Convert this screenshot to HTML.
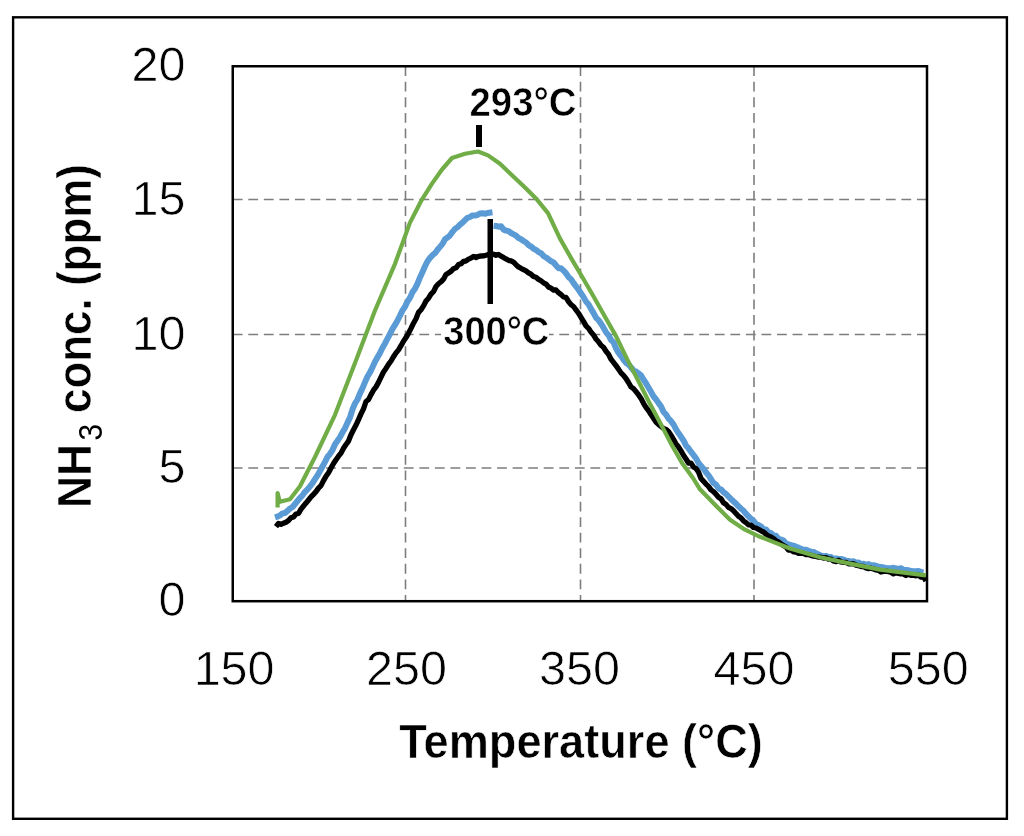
<!DOCTYPE html>
<html><head><meta charset="utf-8"><style>
html,body{margin:0;padding:0;background:#fff;}
svg{display:block;will-change:transform;}
text{font-family:"Liberation Sans",sans-serif;}
</style></head><body>
<svg width="1024" height="836" viewBox="0 0 1024 836">
<rect x="13.1" y="17.3" width="993.8" height="801.5" fill="none" stroke="#000" stroke-width="2.4"/>
<g stroke="#7d7d7d" stroke-width="1.6" stroke-dasharray="9.8 5.75" fill="none">
<line x1="405.5" y1="66.25" x2="405.5" y2="601.2"/><line x1="580.5" y1="66.25" x2="580.5" y2="601.2"/><line x1="754" y1="66.25" x2="754" y2="601.2"/><line x1="232.75" y1="468" x2="927" y2="468"/><line x1="232.75" y1="334.5" x2="927" y2="334.5"/><line x1="232.75" y1="199.5" x2="927" y2="199.5"/>
</g>
<rect x="232.75" y="66.25" width="694.25" height="534.95" fill="none" stroke="#000" stroke-width="2.5"/>
<g font-size="48.5" fill="#000" stroke="#fff" stroke-width="0.7">
<text x="185.5" y="81.0" text-anchor="end">20</text><text x="185.5" y="214.8" text-anchor="end">15</text><text x="185.5" y="349.5" text-anchor="end">10</text><text x="185.5" y="483.1" text-anchor="end">5</text><text x="185.5" y="615.5" text-anchor="end">0</text>
<text x="234.1" y="685.2" text-anchor="middle">150</text><text x="406.5" y="685.2" text-anchor="middle">250</text><text x="579.5" y="685.2" text-anchor="middle">350</text><text x="754.0" y="685.2" text-anchor="middle">450</text><text x="928.3" y="685.2" text-anchor="middle">550</text>
</g>
<g fill="none" stroke-linejoin="round" stroke-linecap="butt">
<path d="M275.0 517.4 L277.5 516.6 L280.0 515.3 L282.5 513.4 L285.0 513.0 L287.5 510.9 L290.0 508.5 L292.5 507.0 L295.0 504.0 L297.5 501.0 L300.0 497.9 L302.5 495.3 L305.0 491.8 L307.5 489.3 L310.0 486.3 L312.5 483.2 L315.0 479.2 L317.5 475.4 L320.0 471.0 L322.5 466.5 L325.0 461.9 L327.5 456.9 L330.0 453.8 L332.5 450.0 L335.0 444.2 L337.5 440.7 L340.0 437.1 L342.5 432.4 L345.0 428.2 L347.5 422.6 L350.0 417.4 L352.5 409.3 L355.0 403.5 L357.5 399.5 L360.0 393.4 L362.5 388.1 L365.0 382.2 L367.5 376.5 L370.0 372.4 L372.5 367.2 L375.0 361.7 L377.5 357.3 L380.0 352.9 L382.5 347.7 L385.0 343.4 L387.5 338.7 L390.0 333.9 L392.5 328.9 L395.0 324.9 L397.5 320.5 L400.0 315.6 L402.5 310.4 L405.0 306.7 L407.5 301.4 L410.0 297.7 L412.5 292.1 L415.0 288.7 L417.5 283.7 L420.0 277.4 L422.5 272.0 L425.0 266.3 L427.5 261.2 L430.0 257.9 L432.5 255.2 L435.0 253.2 L437.5 249.8 L440.0 246.9 L442.5 243.9 L445.0 239.3 L447.5 237.6 L450.0 235.4 L452.5 231.8 L455.0 228.8 L457.5 227.3 L460.0 224.6 L462.5 222.6 L465.0 220.1 L467.5 217.8 L470.0 217.0 L472.5 215.4 L475.0 215.6 L477.5 214.8 L480.0 213.4 L482.5 213.2 L485.0 213.8 L487.5 213.0 L492.5 212.3 M493.6 225.7 L496.1 226.0 L498.6 226.7 L501.1 226.2 L503.6 229.6 L506.1 230.6 L508.6 231.1 L511.1 233.0 L513.6 234.3 L516.1 235.6 L518.6 238.1 L521.1 239.2 L523.6 241.0 L526.1 242.5 L528.6 245.1 L531.1 246.6 L533.6 248.8 L536.1 249.9 L538.6 252.1 L541.1 253.3 L543.6 256.1 L546.1 257.5 L548.6 259.4 L551.1 261.3 L553.6 262.5 L556.1 265.5 L558.6 268.3 L561.1 268.3 L563.6 270.7 L566.1 273.3 L568.6 277.2 L571.1 279.3 L573.6 283.1 L576.1 286.5 L578.6 289.8 L581.1 293.5 L583.6 297.1 L586.1 301.6 L588.6 304.5 L591.1 308.9 L593.6 313.1 L596.1 317.8 L598.6 320.2 L601.1 323.8 L603.6 327.9 L606.1 332.4 L608.6 335.4 L611.1 340.0 L613.6 342.4 L616.1 348.5 L618.6 352.9 L621.1 356.0 L623.6 359.9 L626.1 362.9 L628.6 364.6 L631.1 367.5 L633.6 370.5 L636.1 371.6 L638.6 373.5 L641.1 375.4 L643.6 379.7 L646.1 383.5 L648.6 387.8 L651.1 392.1 L653.6 396.5 L656.1 399.5 L658.6 403.1 L661.1 406.5 L663.6 412.0 L666.1 414.6 L668.6 418.7 L671.1 421.2 L673.6 424.6 L676.1 429.4 L678.6 433.3 L681.1 436.8 L683.6 440.7 L686.1 445.7 L688.6 448.4 L691.1 451.9 L693.6 455.1 L696.1 458.5 L698.6 463.1 L701.1 466.0 L703.6 468.9 L706.1 472.5 L708.6 475.4 L711.1 479.3 L713.6 483.1 L716.1 484.8 L718.6 488.4 L721.1 489.5 L723.6 492.3 L726.1 494.0 L728.6 496.7 L731.1 499.2 L733.6 501.5 L736.1 503.8 L738.6 506.3 L741.1 508.7 L743.6 510.8 L746.1 513.9 L748.6 516.4 L751.1 518.8 L753.6 520.8 L756.1 524.0 L758.6 525.0 L761.1 526.5 L763.6 529.5 L766.1 529.6 L768.6 532.4 L771.1 533.1 L773.6 535.5 L776.1 535.8 L778.6 538.8 L781.1 539.6 L783.6 540.6 L786.1 543.5 L788.6 544.4 L791.1 545.2 L793.6 545.6 L796.1 546.8 L798.6 547.6 L801.1 548.9 L803.6 549.8 L806.1 549.8 L808.6 550.8 L811.1 551.6 L813.6 552.0 L816.1 553.3 L818.6 554.4 L821.1 555.5 L823.6 556.4 L826.1 555.8 L828.6 557.1 L831.1 557.1 L833.6 559.0 L836.1 558.4 L838.6 559.2 L841.1 559.0 L843.6 559.6 L846.1 560.7 L848.6 560.9 L851.1 561.8 L853.6 561.2 L856.1 562.9 L858.6 562.5 L861.1 564.4 L863.6 563.7 L866.1 564.9 L868.6 564.0 L871.1 565.5 L873.6 565.2 L876.1 565.9 L878.6 566.7 L881.1 566.9 L883.6 567.5 L886.1 568.0 L888.6 568.3 L891.1 568.2 L893.6 567.8 L896.1 568.4 L898.6 569.0 L901.1 568.2 L903.6 570.1 L906.1 569.9 L908.6 570.2 L911.1 571.1 L913.6 571.3 L916.1 571.3 L918.6 570.9 L921.1 572.0 L923.6 572.3" stroke="#5b9bd5" stroke-width="6"/>
<path d="M276.0 526.6 L278.5 523.4 L281.0 524.4 L283.5 523.2 L286.0 522.2 L288.5 520.5 L291.0 517.7 L293.5 516.9 L296.0 514.0 L298.5 513.5 L301.0 509.1 L303.5 506.0 L306.0 503.1 L308.5 500.0 L311.0 496.9 L313.5 494.3 L316.0 491.6 L318.5 488.1 L321.0 485.6 L323.5 480.6 L326.0 476.3 L328.5 472.8 L331.0 468.0 L333.5 463.5 L336.0 459.7 L338.5 456.2 L341.0 453.1 L343.5 448.2 L346.0 444.5 L348.5 441.1 L351.0 434.8 L353.5 429.8 L356.0 425.1 L358.5 419.6 L361.0 413.9 L363.5 408.8 L366.0 401.5 L368.5 399.6 L371.0 394.6 L373.5 390.2 L376.0 386.9 L378.5 382.4 L381.0 377.1 L383.5 372.0 L386.0 368.4 L388.5 364.3 L391.0 361.0 L393.5 356.7 L396.0 352.9 L398.5 349.9 L401.0 345.7 L403.5 341.2 L406.0 337.6 L408.5 333.2 L411.0 328.4 L413.5 323.2 L416.0 318.8 L418.5 312.4 L421.0 309.7 L423.5 305.9 L426.0 301.0 L428.5 298.2 L431.0 294.1 L433.5 291.6 L436.0 286.5 L438.5 283.8 L441.0 281.8 L443.5 279.2 L446.0 274.5 L448.5 273.0 L451.0 271.3 L453.5 268.7 L456.0 267.8 L458.5 264.6 L461.0 263.8 L463.5 261.3 L466.0 261.0 L468.5 259.1 L471.0 258.1 L473.5 256.5 L476.0 257.5 L478.5 256.3 L481.0 256.0 L483.5 255.9 L486.0 255.2 L488.5 254.4 L491.0 254.3 L493.5 254.2 L496.0 255.3 L498.5 254.4 L501.0 256.1 L503.5 257.4 L506.0 258.9 L508.5 260.3 L511.0 260.9 L513.5 262.2 L516.0 264.7 L518.5 266.9 L521.0 268.3 L523.5 269.6 L526.0 270.9 L528.5 272.9 L531.0 274.2 L533.5 276.5 L536.0 277.3 L538.5 279.4 L541.0 280.8 L543.5 282.8 L546.0 284.1 L548.5 287.0 L551.0 288.2 L553.5 290.0 L556.0 289.9 L558.5 292.7 L561.0 294.5 L563.5 297.0 L566.0 297.4 L568.5 301.5 L571.0 304.6 L573.5 306.5 L576.0 309.8 L578.5 313.2 L581.0 317.4 L583.5 321.4 L586.0 325.9 L588.5 328.3 L591.0 332.1 L593.5 334.9 L596.0 339.0 L598.5 341.7 L601.0 345.3 L603.5 347.3 L606.0 351.2 L608.5 354.2 L611.0 359.2 L613.5 362.4 L616.0 365.6 L618.5 369.1 L621.0 372.9 L623.5 375.4 L626.0 378.5 L628.5 382.5 L631.0 386.8 L633.5 388.6 L636.0 391.7 L638.5 394.7 L641.0 398.4 L643.5 403.3 L646.0 407.3 L648.5 410.6 L651.0 414.6 L653.5 418.2 L656.0 422.0 L658.5 424.4 L661.0 426.5 L663.5 428.4 L666.0 429.4 L668.5 431.5 L671.0 435.2 L673.5 439.3 L676.0 443.9 L678.5 447.0 L681.0 450.9 L683.5 455.3 L686.0 459.0 L688.5 463.0 L691.0 463.1 L693.5 466.9 L696.0 468.4 L698.5 472.1 L701.0 478.4 L703.5 481.3 L706.0 484.1 L708.5 486.4 L711.0 489.9 L713.5 491.6 L716.0 494.3 L718.5 497.2 L721.0 498.8 L723.5 502.7 L726.0 504.4 L728.5 507.4 L731.0 508.6 L733.5 510.8 L736.0 513.5 L738.5 516.2 L741.0 517.9 L743.5 520.8 L746.0 522.6 L748.5 524.9 L751.0 525.1 L753.5 527.5 L756.0 528.0 L758.5 529.3 L761.0 530.8 L763.5 532.0 L766.0 534.1 L768.5 536.0 L771.0 536.9 L773.5 538.6 L776.0 540.8 L778.5 542.0 L781.0 543.9 L783.5 545.6 L786.0 546.8 L788.5 550.0 L791.0 550.0 L793.5 551.9 L796.0 552.1 L798.5 553.3 L801.0 553.2 L803.5 553.3 L806.0 554.6 L808.5 554.6 L811.0 555.4 L813.5 556.1 L816.0 556.5 L818.5 557.1 L821.0 557.2 L823.5 558.1 L826.0 557.6 L828.5 559.2 L831.0 559.2 L833.5 561.0 L836.0 561.6 L838.5 560.3 L841.0 562.0 L843.5 562.4 L846.0 562.4 L848.5 563.8 L851.0 563.8 L853.5 563.7 L856.0 565.1 L858.5 565.8 L861.0 566.5 L863.5 566.4 L866.0 568.0 L868.5 568.6 L871.0 568.2 L873.5 569.0 L876.0 569.9 L878.5 570.3 L881.0 572.0 L883.5 571.5 L886.0 571.1 L888.5 571.6 L891.0 572.3 L893.5 573.9 L896.0 572.9 L898.5 573.3 L901.0 573.9 L903.5 573.9 L906.0 575.5 L908.5 574.2 L911.0 575.3 L913.5 575.2 L916.0 575.8 L918.5 575.1 L921.0 577.1 L923.5 576.4 L926 581" stroke="#000" stroke-width="5.3"/>
<path d="M277.6 507.5 L277.6 493 L279.5 500.8 L280.0 501.8 L290.0 499.2 L300.0 486.2 L315.0 457.0 L335.0 414.8 L355.0 363.0 L375.0 310.5 L395.0 263.8 L410.0 222.6 L421.0 201.2 L432.0 183.6 L442.0 169.5 L452.0 158.0 L465.0 153.7 L478.0 151.5 L488.0 155.4 L500.0 163.8 L512.0 175.2 L525.0 187.6 L537.0 199.6 L548.0 213.1 L560.0 238.6 L572.0 259.6 L583.0 278.2 L594.0 297.3 L605.0 316.7 L616.0 336.1 L627.0 358.9 L638.0 380.2 L649.0 402.0 L660.0 422.4 L671.0 443.6 L682.0 463.0 L693.0 478.0 L700.0 489.3 L715.0 504.8 L730.0 519.7 L745.0 529.7 L760.0 536.8 L775.0 542.6 L790.0 548.5 L820.0 557.2 L850.0 563.6 L880.0 569.6 L926.0 575.4" stroke="#70ad47" stroke-width="4.2"/>
</g>
<rect x="476" y="125" width="6" height="22" fill="#000"/>
<rect x="487.5" y="219" width="5.5" height="85" fill="#000"/>
<rect x="441" y="312" width="108" height="36" fill="#fff"/>
<g font-size="41.5" font-weight="bold" fill="#000" stroke="#fff" stroke-width="0.6">
<text x="469.5" y="116" textLength="107" lengthAdjust="spacingAndGlyphs">293°C</text>
<text x="443.3" y="344.7" textLength="106" lengthAdjust="spacingAndGlyphs">300°C</text>
</g>
<text x="399.3" y="758" font-size="48.5" font-weight="bold" stroke="#fff" stroke-width="0.6" textLength="363.5" lengthAdjust="spacingAndGlyphs">Temperature (°C)</text>
<g transform="translate(91,508) rotate(-90)" font-weight="bold" font-size="48.5" stroke="#fff" stroke-width="0.6">
<text x="0" y="0" textLength="64" lengthAdjust="spacingAndGlyphs">NH</text>
<text x="67.5" y="10.8" font-size="33" font-weight="normal" stroke="none" textLength="16.5" lengthAdjust="spacingAndGlyphs">3</text>
<text x="95" y="0" textLength="249" lengthAdjust="spacingAndGlyphs">conc. (ppm)</text>
</g>
</svg>
</body></html>
